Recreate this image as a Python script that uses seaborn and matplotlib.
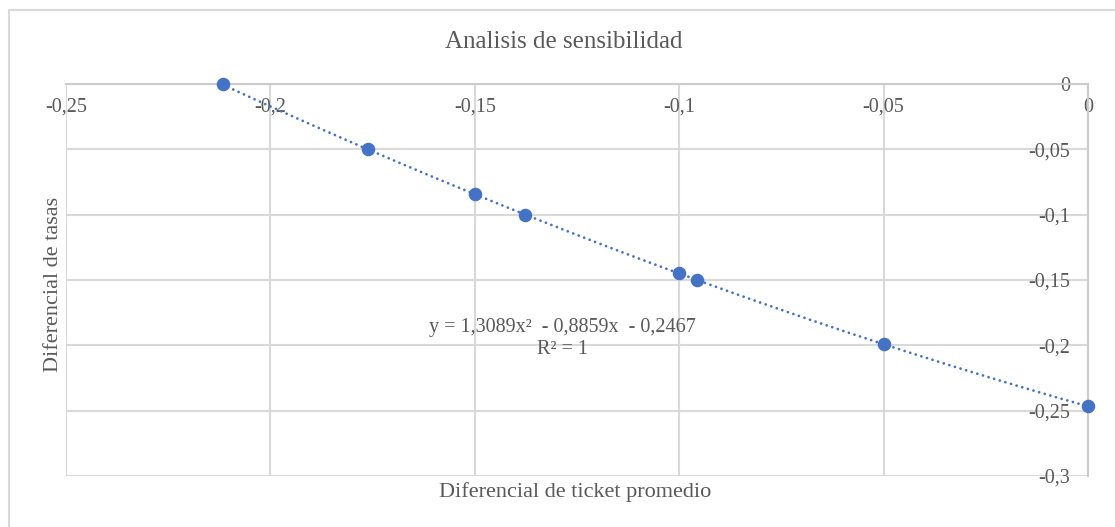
import numpy as np
import pandas as pd
import matplotlib
matplotlib.use("Agg")
import matplotlib.pyplot as plt
import seaborn as sns
from matplotlib.patches import Rectangle

# Sensitivity data: ticket differential (x) vs. rate differential (y)
ticket_diff = [-0.2117, -0.1762, -0.15, -0.1376, -0.10, -0.0957, -0.05, 0.0]
rate_diff = [0.0, -0.05, -0.0844, -0.10, -0.145, -0.15, -0.199, -0.2467]

# Quadratic trendline coefficients (highest degree first) and its R²
trend_coef = [1.3089, -0.8859, -0.2467]
trend_r2 = 1

x_ticks = [-0.25, -0.2, -0.15, -0.1, -0.05, 0]
x_labels = ["-0,25", "-0,2", "-0,15", "-0,1", "-0,05", "0"]
y_ticks = [0, -0.05, -0.1, -0.15, -0.2, -0.25, -0.3]
y_labels = ["0", "-0,05", "-0,1", "-0,15", "-0,2", "-0,25", "-0,3"]

title = "Analisis de sensibilidad"
x_title = "Diferencial de ticket promedio"
y_title = "Diferencial de tasas"

sns.set_theme(style="white")
plt.rcParams["font.family"] = ["Liberation Serif", "DejaVu Serif"]

TEXT = "#595959"
GRID = "#d9d9d9"
BLUE = "#4472C4"

W, H = 1115, 527
fig = plt.figure(figsize=(W / 100, H / 100), dpi=100)
fig.patch.set_facecolor("white")

# chart frame (runs off the right and bottom edges)
fig.add_artist(Rectangle((9 / W, -0.3), 1.2, 1.3 - 10 / H, transform=fig.transFigure,
                         fill=False, edgecolor=GRID, linewidth=1.5, clip_on=False))

ax = fig.add_axes([66 / W, 1 - 476 / H, (1088 - 66) / W, (476 - 84) / H])
ax.set_xlim(-0.25, 0)
ax.set_ylim(-0.3, 0)

df = pd.DataFrame({"ticket": ticket_diff, "tasa": rate_diff})

# trendline over the data range
xs = np.linspace(min(ticket_diff), max(ticket_diff), 300)
trend = pd.DataFrame({"ticket": xs, "tasa": np.polyval(trend_coef, xs)})
sns.lineplot(data=trend, x="ticket", y="tasa", ax=ax, color=BLUE, linewidth=2.0,
             linestyle=(0, (0.01, 2.1)), dash_capstyle="round", zorder=3)

sns.scatterplot(data=df, x="ticket", y="tasa", ax=ax, color=BLUE, s=95,
                edgecolor=BLUE, linewidth=0, zorder=4, clip_on=False)

# gridlines
ax.set_xticks(x_ticks)
ax.set_yticks(y_ticks)
ax.grid(True, color=GRID, linewidth=1.5)
ax.set_axisbelow(True)

# axis lines cross at the origin (top-right corner)
ax.spines["bottom"].set_position(("data", 0))
ax.spines["left"].set_position(("data", 0))
for side in ["bottom", "left"]:
    ax.spines[side].set_color("#cccccc")
    ax.spines[side].set_linewidth(1.5)
for side in ["top", "right"]:
    ax.spines[side].set_visible(False)

ax.set_xticklabels(x_labels)
ax.set_yticklabels(y_labels)
ax.tick_params(axis="x", length=0, pad=10, labelsize=14.5, labelcolor=TEXT)
ax.tick_params(axis="y", length=0, pad=13, labelsize=14.5, labelcolor=TEXT)
ax.set_xlabel("")
ax.set_ylabel("")

# trendline equation
eq = (f"y = {trend_coef[0]:.4f}x²  - {abs(trend_coef[1]):.4f}x  - {abs(trend_coef[2]):.4f}"
      .replace(".", ","))
ax.text(-0.1286, -0.195, eq + f"\nR² = {trend_r2}", ha="center", va="center",
        fontsize=14.5, color=TEXT, linespacing=1.2)

fig.text(564 / W, 1 - 42 / H, title, ha="center", va="center", fontsize=18, color=TEXT)
fig.text(575 / W, 1 - 492 / H, x_title, ha="center", va="center", fontsize=16, color=TEXT)
fig.text(54 / W, 1 - 284 / H, y_title, ha="center", va="center", rotation=90,
         fontsize=16, color=TEXT)

fig.savefig("out.png", dpi=100, facecolor="white")
